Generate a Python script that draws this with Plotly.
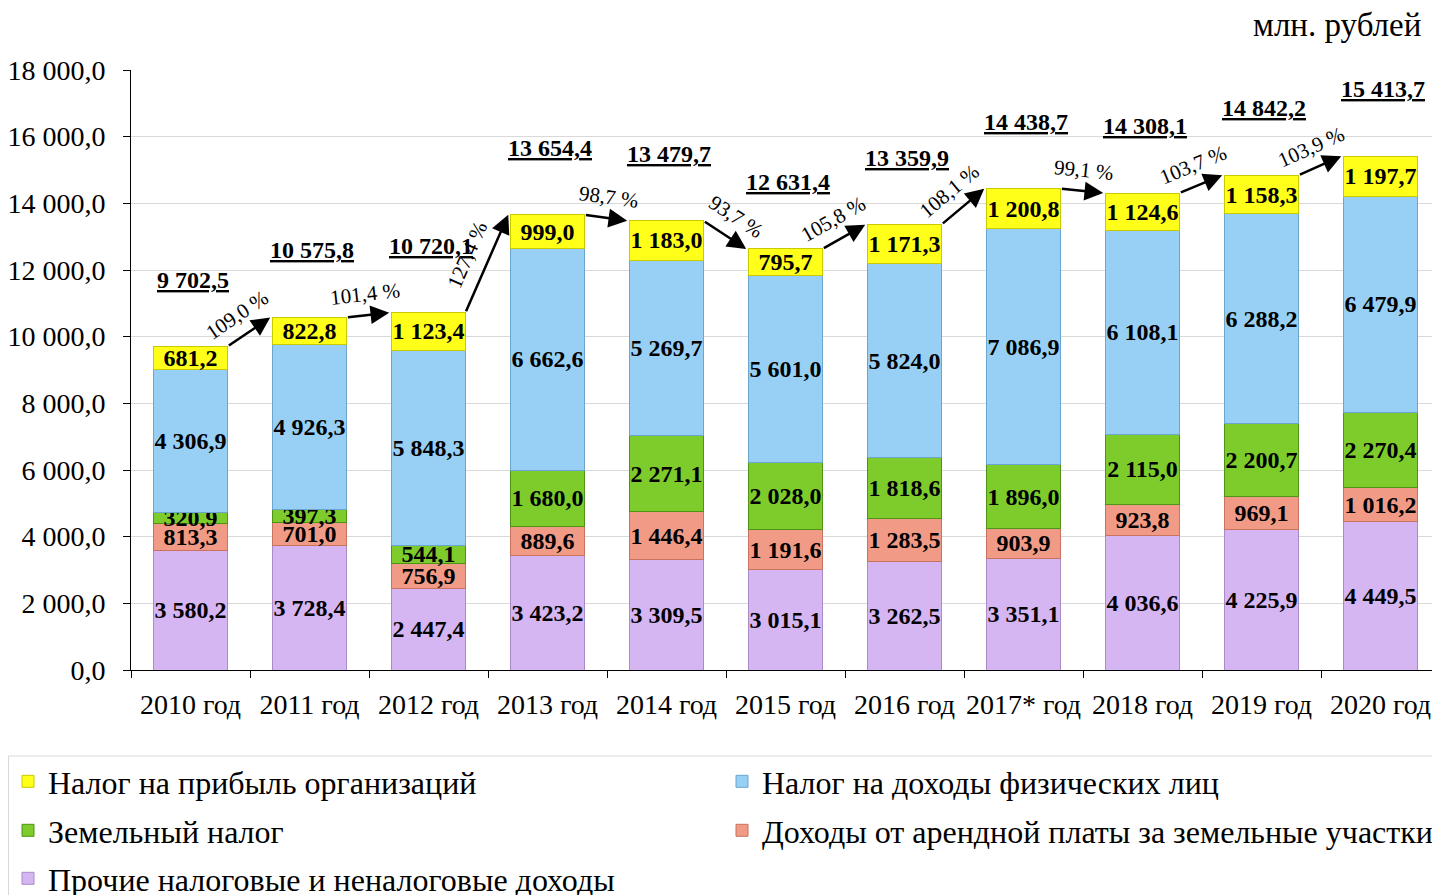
import math
import plotly.graph_objects as go

years = ["2010 год", "2011 год", "2012 год", "2013 год", "2014 год", "2015 год",
         "2016 год", "2017* год", "2018 год", "2019 год", "2020 год"]
other = [3580.2, 3728.4, 2447.4, 3423.2, 3309.5, 3015.1, 3262.5, 3351.1, 4036.6, 4225.9, 4449.5]
rent = [813.3, 701.0, 756.9, 889.6, 1446.4, 1191.6, 1283.5, 903.9, 923.8, 969.1, 1016.2]
land = [320.9, 397.3, 544.1, 1680.0, 2271.1, 2028.0, 1818.6, 1896.0, 2115.0, 2200.7, 2270.4]
ndfl = [4306.9, 4926.3, 5848.3, 6662.6, 5269.7, 5601.0, 5824.0, 7086.9, 6108.1, 6288.2, 6479.9]
profit = [681.2, 822.8, 1123.4, 999.0, 1183.0, 795.7, 1171.3, 1200.8, 1124.6, 1158.3, 1197.7]
totals = [9702.5, 10575.8, 10720.1, 13654.4, 13479.7, 12631.4, 13359.9, 14438.7, 14308.1, 14842.2, 15413.7]
growth = ["109,0 %", "101,4 %", "127,4 %", "98,7 %", "93,7 %", "105,8 %",
          "108,1 %", "99,1 %", "103,7 %", "103,9 %"]

names = {
    "profit": "Налог на прибыль организаций",
    "ndfl": "Налог на доходы физических лиц",
    "land": "Земельный налог",
    "rent": "Доходы от арендной платы за земельные участки",
    "other": "Прочие налоговые и неналоговые доходы",
}

FONT = "Liberation Serif"
OFF = 8  # page body margin
W, H = 1440 - OFF, 895 - OFF
ML, MR, MT, MB = 131 - OFF, 0, 70 - OFF, 895 - 670
PW, PH = W - ML - MR, H - MT - MB
YMAX = 18000
BARW = 0.62

def px_x(p):  # screen px -> paper x
    return (p - OFF - ML) / PW

def px_y(p):  # screen px -> paper y
    return (H - MB - (p - OFF)) / PH

fig = go.Figure()

# (key, values, fill, outline, legend id, rank within legend)
series = [
    ("other", other, "#D6B5F3", "#A98BC8", "legend3", 1),
    ("rent", rent, "#F19B86", "#C8735F", "legend2", 2),
    ("land", land, "#7DCC2B", "#4F9314", "legend2", 1),
    ("ndfl", ndfl, "#98D0F5", "#6AA6D0", "legend", 2),
    ("profit", profit, "#FFFF1A", "#C9C900", "legend", 1),
]
for key, vals, col, lcol, leg, rank in series:
    fig.add_trace(go.Bar(
        x=years, y=vals, name=names[key],
        marker=dict(color=col, line=dict(color=lcol, width=1)),
        texttemplate="<b>%{y:,.1f}</b>", textposition="inside",
        insidetextanchor="middle", textangle=0, constraintext="none",
        textfont=dict(family=FONT, size=24, color="black"),
        legend=leg, legendrank=rank, hoverinfo="skip",
    ))

def fmt(v):
    return f"{v:,.1f}".replace(",", " ").replace(".", ",")

ann = []
for i, t in enumerate(totals):
    ann.append(dict(x=i, y=t, xref="x", yref="y", text=f"<b><u>{fmt(t)}</u></b>",
                    showarrow=False, yshift=67, xshift=2,
                    font=dict(family=FONT, size=24, color="black")))

pxx = PW / len(years)
pxy = PH / YMAX
hw = BARW / 2
for i, g in enumerate(growth):
    x0, y0 = i + hw, totals[i]
    x1, y1 = i + 1 - hw - 0.02, totals[i + 1]
    ann.append(dict(x=x1, y=y1, ax=x0, ay=y0, xref="x", yref="y", axref="x", ayref="y",
                    text="", showarrow=True, arrowhead=2, arrowsize=1.5, arrowwidth=2.5,
                    arrowcolor="black", standoff=0, startstandoff=0))
    dxp = (x1 - x0) * pxx
    dyp = -(y1 - y0) * pxy
    th = math.atan2(dyp, dxp)
    d = 21
    ann.append(dict(x=(x0 + x1) / 2, y=(y0 + y1) / 2, xref="x", yref="y", text=g,
                    showarrow=False, textangle=math.degrees(th),
                    xshift=math.sin(th) * d, yshift=math.cos(th) * d,
                    font=dict(family=FONT, size=21, color="black")))

ann.append(dict(x=px_x(1423), y=px_y(25), xref="paper", yref="paper",
                text="млн. рублей", showarrow=False, xanchor="right", yanchor="middle",
                font=dict(family=FONT, size=33, color="black")))

legend_common = dict(orientation="h", xref="paper", yref="paper", xanchor="left",
                     yanchor="top", entrywidth=669, entrywidthmode="pixels",
                     traceorder="normal", borderwidth=0, bgcolor="rgba(0,0,0,0)",
                     font=dict(family=FONT, size=32, color="black"), itemwidth=30)
row_centers = [783, 832, 880]
LOFF = 29

fig.update_layout(
    width=W, height=H,
    margin=dict(l=ML, r=MR, t=MT, b=MB, autoexpand=False),
    barmode="stack", bargap=1 - BARW,
    plot_bgcolor="white", paper_bgcolor="white",
    separators=", ",
    font=dict(family=FONT, size=27, color="black"),
    annotations=ann,
    showlegend=True,
    legend=dict(legend_common, x=px_x(8), y=px_y(row_centers[0] - LOFF)),
    legend2=dict(legend_common, x=px_x(8), y=px_y(row_centers[1] - LOFF)),
    legend3=dict(legend_common, x=px_x(8), y=px_y(row_centers[2] - LOFF)),
    shapes=[dict(type="rect", xref="paper", yref="paper",
                 x0=px_x(8.5), x1=px_x(1437), y0=px_y(756), y1=px_y(905),
                 line=dict(color="#D9D9D9", width=1), fillcolor="rgba(0,0,0,0)",
                 layer="below")],
    xaxis=dict(type="category", showline=True, linecolor="black", linewidth=1,
               ticks="outside", ticklen=7, tickcolor="black", tickson="boundaries",
               tickfont=dict(family=FONT, size=28), showgrid=False, tickangle=0,
               ticklabelstandoff=9, automargin=False, range=[-0.5, len(years) - 0.5]),
    yaxis=dict(range=[0, YMAX], dtick=2000, tickformat=",.1f", showline=True,
               linecolor="black", linewidth=1, ticks="outside", ticklen=7,
               tickcolor="black", gridcolor="#D9D9D9", gridwidth=1,
               tickfont=dict(family=FONT, size=28), ticklabelstandoff=12,
               zeroline=False, automargin=False),
)

fig.write_html("out.html")
